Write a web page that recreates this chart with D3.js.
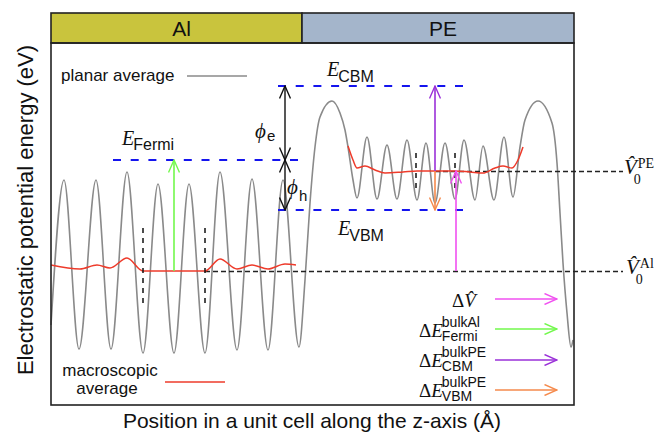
<!DOCTYPE html>
<html>
<head>
<meta charset="utf-8">
<script src="https://cdn.jsdelivr.net/npm/d3@7"></script>
<style>
body { margin: 0; background: #fff; }
</style>
</head>
<body>
<div id="chart"></div>
<script>
// planar average (gray) - extrema / key points
const planarX = [0, 1.3, 2.8, 4.5, 6.0, 7.6, 9.2, 10.7, 12.3, 13.8, 15.4, 16.9, 18.6, 20.1, 21.7, 23.2, 24.8,
    25.4, 25.9, 26.4, 26.9, 28.1, 28.9, 29.4, 29.7, 30.2, 30.6,
    31.6, 32.6, 33.6, 34.6, 35.6, 36.6, 37.5, 38.4, 39.4, 40.4, 41.3, 42.4, 43.2, 44.3, 45.3, 46.2,
    46.9, 47.4, 48.7, 50.1, 50.6, 50.9, 51.2, 51.6, 52.0, 52.2];
const planarY = [-2.7, 4.55, -3.9, 4.55, -3.9, 4.95, -4.1, 4.35, -4.1, 4.35, -4.1, 4.95, -3.95, 4.6, -3.95, 4.55, -3.8,
    -0.45, 3.4, 6.2, 7.7, 8.5, 7.9, 7.05, 6.2, 4.55, 3.65,
    6.7, 3.6, 6.3, 3.6, 6.55, 3.55, 6.4, 3.4, 6.4, 3.6, 6.55, 3.55, 6.25, 3.55, 6.7, 3.7,
    6.2, 7.55, 8.5, 7.4, 5.4, 2.9, 0.4, -2.1, -3.8, -3.45];

// macroscopic average (red)
const macroAlX = [0, 2.9, 4.6, 5.9, 7.6, 9.2, 12.3, 15.4, 16.9, 18.6, 20.1, 21.7, 23.4, 24.5];
const macroAlY = [0.3, 0.1, 0.3, 0.15, 0.65, 0, 0, 0, 0.6, 0.1, 0.3, 0.1, 0.35, 0.3];
const macroPEX = [29.7, 30.2, 30.6, 31.4, 32.4, 33.4, 35.2, 36.6, 40.4, 41.9, 43.2, 44.4, 45.2, 46.1, 46.7, 47.2];
const macroPEY = [6.25, 5.55, 5.15, 5.25, 5.05, 4.9, 4.95, 5.0, 5.0, 4.95, 4.9, 5.15, 5.25, 5.15, 5.55, 6.2];

// regions on top
const regionNames = ["Al", "PE"];
const regionEdges = [0, 25.1, 52.3];
const regionColors = ["#c9c43d", "#a4b5cb"];

// energy levels (eV)
const eFermi = 5.55, eCBM = 9.25, eVBM = 3.05, v0Al = 0, v0PE = 5.0;
const fermiSpan = [6.2, 25.4];
const bandSpan = [22.7, 41.9];
const v0AlSpan = [15.4, 57.2];
const v0PESpan = [38.4, 57.2];
// period marks (dashed verticals)
const markAlX = [9.2, 15.4], markAlY = [-1.85, 2.15];
const markPEX = [36.5, 40.4], markPEY = [4.15, 5.9];
const phiX = 23.4;

// level arrows
const arrowNames = ["dV", "fermi", "cbm", "vbm"];
const arrowX = [40.5, 12.3, 38.4, 38.4];
const arrowFrom = [v0Al, v0Al, v0PE, v0PE];
const arrowTo = [v0PE, eFermi, eCBM, eVBM];
const arrowColors = ["#f050f0", "#72f84c", "#9a30d8", "#f58a4c"];

const W = 657, H = 434;
const svg = d3.select("#chart").append("svg").attr("width", W).attr("height", H);
const x = d3.scaleLinear().domain([0, 52.3]).range([51, 574]);
const y = d3.scaleLinear().domain([-6.7, 11.4]).range([405, 43]);

const serif = "'Liberation Serif', 'DejaVu Serif', serif";
const sans = "'Liberation Sans', Arial, sans-serif";

const defs = svg.append("defs");
function marker(id, color) {
    defs.append("marker").attr("id", id)
        .attr("viewBox", "0 0 14 12").attr("refX", 13).attr("refY", 6)
        .attr("markerWidth", 14).attr("markerHeight", 12)
        .attr("markerUnits", "userSpaceOnUse").attr("orient", "auto-start-reverse")
        .append("path").attr("d", "M0.5,0.5 L13,6 L0.5,11.5")
        .attr("fill", "none").attr("stroke", color).attr("stroke-width", 1.4);
}
arrowNames.forEach((n, i) => marker("m-" + n, arrowColors[i]));
marker("m-black", "#111");

const line = d3.line().x(d => x(d[0])).y(d => y(d[1])).curve(d3.curveMonotoneX);

// gray planar average
svg.append("path")
    .attr("d", line(d3.zip(planarX, planarY)))
    .attr("fill", "none").attr("stroke", "#8a8a8a").attr("stroke-width", 1.6);

// dashed V0 lines
[[v0AlSpan, v0Al], [v0PESpan, v0PE]].forEach(([span, v]) => {
    svg.append("line").attr("x1", x(span[0])).attr("x2", x(span[1]))
        .attr("y1", y(v) + 0.5).attr("y2", y(v) + 0.5)
        .attr("stroke", "#222").attr("stroke-width", 1.3).attr("stroke-dasharray", "5,3");
});

// red macroscopic averages
[[macroAlX, macroAlY], [macroPEX, macroPEY]].forEach(([xs, ys]) => {
    svg.append("path")
        .attr("d", line(d3.zip(xs, ys)))
        .attr("fill", "none").attr("stroke", "#ee3b2b").attr("stroke-width", 1.5);
});

// dashed period marks
[[markAlX, markAlY], [markPEX, markPEY]].forEach(([xs, ys]) => {
    xs.forEach(xv => {
        svg.append("line").attr("x1", x(xv)).attr("x2", x(xv))
            .attr("y1", y(ys[1])).attr("y2", y(ys[0]))
            .attr("stroke", "#111").attr("stroke-width", 1.5).attr("stroke-dasharray", "5,5");
    });
});

// blue band edges
[[fermiSpan, eFermi], [bandSpan, eCBM], [bandSpan, eVBM]].forEach(([span, v]) => {
    svg.append("line").attr("x1", x(span[0])).attr("x2", x(span[1]))
        .attr("y1", y(v)).attr("y2", y(v))
        .attr("stroke", "#1414ee").attr("stroke-width", 2.2).attr("stroke-dasharray", "8,9.7");
});

// phi double arrows
[[eFermi, eCBM], [eFermi, eVBM]].forEach(([a, b]) => {
    svg.append("line").attr("x1", x(phiX)).attr("x2", x(phiX))
        .attr("y1", y(a)).attr("y2", y(b))
        .attr("stroke", "#111").attr("stroke-width", 1.4)
        .attr("marker-start", "url(#m-black)").attr("marker-end", "url(#m-black)");
});

// level arrows
arrowNames.forEach((n, i) => {
    svg.append("line").attr("x1", x(arrowX[i])).attr("x2", x(arrowX[i]))
        .attr("y1", y(arrowFrom[i])).attr("y2", y(arrowTo[i]))
        .attr("stroke", arrowColors[i]).attr("stroke-width", 1.6)
        .attr("marker-end", "url(#m-" + n + ")");
});

// header bars
regionNames.forEach((r, i) => {
    svg.append("rect").attr("x", x(regionEdges[i])).attr("y", 13)
        .attr("width", x(regionEdges[i + 1]) - x(regionEdges[i])).attr("height", 30)
        .attr("fill", regionColors[i]).attr("stroke", "#222").attr("stroke-width", 1.6);
    svg.append("text").attr("x", (x(regionEdges[i]) + x(regionEdges[i + 1])) / 2 + 5).attr("y", 36)
        .attr("text-anchor", "middle").attr("font-family", sans).attr("font-size", 21)
        .attr("fill", "#111").text(r);
});

// frame
svg.append("rect").attr("x", 51).attr("y", 43).attr("width", 523).attr("height", 362)
    .attr("fill", "none").attr("stroke", "#222").attr("stroke-width", 1.6);

// axis titles
svg.append("text").attr("x", 312).attr("y", 428).attr("text-anchor", "middle")
    .attr("font-family", sans).attr("font-size", 21).attr("fill", "#111")
    .text("Position in a unit cell along the z-axis (Å)");
svg.append("text").attr("transform", "translate(33,210) rotate(-90)").attr("text-anchor", "middle")
    .attr("font-family", sans).attr("font-size", 22).attr("fill", "#111")
    .text("Electrostatic potential energy (eV)");

// math-style labels: base + optional sup/sub
function mathLabel(x0, yb, base, opts) {
    const g = svg.append("g");
    const t = g.append("text").attr("x", x0).attr("y", yb).attr("fill", "#111");
    base.forEach(p => t.append("tspan")
        .attr("font-family", p.f || serif).attr("font-size", p.s || 19)
        .attr("font-style", p.i ? "italic" : "normal").text(p.t));
    const w = t.node().getComputedTextLength();
    const sf = opts.font || sans, ss = opts.size || 14;
    if (opts.sup) g.append("text").attr("x", x0 + w + (opts.supDx || 0)).attr("y", yb + opts.supDy)
        .attr("font-family", sf).attr("font-size", ss).attr("fill", "#111").text(opts.sup);
    if (opts.sub) g.append("text").attr("x", x0 + w + (opts.subDx || 0)).attr("y", yb + opts.subDy)
        .attr("font-family", opts.subFont || sf).attr("font-size", opts.subSize || ss).attr("fill", "#111").text(opts.sub);
}

mathLabel(122, 145, [{t: "E", i: true, s: 20}], {sub: "Fermi", subDy: 5, subDx: -1, size: 16});
mathLabel(327, 76, [{t: "E", i: true, s: 20}], {sub: "CBM", subDy: 6, subDx: -1, size: 16});
mathLabel(338, 235, [{t: "E", i: true, s: 20}], {sub: "VBM", subDy: 6, subDx: -1, size: 16});
mathLabel(255, 138, [{t: "\u03d5", i: true, s: 21}], {sub: "e", subDy: 3, subDx: 1, size: 15});
mathLabel(287, 194, [{t: "\u03d5", i: true, s: 21}], {sub: "h", subDy: 7, subDx: 1, size: 15});

mathLabel(624, y(v0PE) + 3, [{t: "V\u0302", i: true, s: 21}],
    {sup: "PE", supDy: -6, supDx: 1, sub: "0", subDy: 10, subDx: -3, font: serif, size: 14});
mathLabel(626, y(v0Al) + 3, [{t: "V\u0302", i: true, s: 21}],
    {sup: "Al", supDy: -6, supDx: 1, sub: "0", subDy: 10, subDx: -3, font: serif, size: 14});

// legend for the planar / macroscopic curves
svg.append("text").attr("x", 61).attr("y", 81).attr("font-family", sans).attr("font-size", 17)
    .attr("fill", "#111").text("planar average");
svg.append("line").attr("x1", 187).attr("x2", 247).attr("y1", 76).attr("y2", 76)
    .attr("stroke", "#8a8a8a").attr("stroke-width", 1.6);
svg.append("text").attr("x", 110).attr("y", 376).attr("text-anchor", "middle").attr("font-family", sans)
    .attr("font-size", 17).attr("fill", "#111").text("macroscopic");
svg.append("text").attr("x", 107).attr("y", 394).attr("text-anchor", "middle").attr("font-family", sans)
    .attr("font-size", 17).attr("fill", "#111").text("average");
svg.append("line").attr("x1", 165).attr("x2", 225).attr("y1", 382).attr("y2", 382)
    .attr("stroke", "#ee3b2b").attr("stroke-width", 1.6);

// legend for arrows
const legendY = [299, 329, 360, 390];
mathLabel(452, 307, [{t: "\u0394"}, {t: "V\u0302", i: true}], {});
mathLabel(419, 337, [{t: "\u0394"}, {t: "E", i: true}], {sup: "bulkAl", supDy: -10, supDx: -1, sub: "Fermi", subDy: 4, subDx: -1});
mathLabel(419, 367, [{t: "\u0394"}, {t: "E", i: true}], {sup: "bulkPE", supDy: -10, supDx: -1, sub: "CBM", subDy: 4, subDx: -1});
mathLabel(419, 397, [{t: "\u0394"}, {t: "E", i: true}], {sup: "bulkPE", supDy: -10, supDx: -1, sub: "VBM", subDy: 4, subDx: -1});
arrowNames.forEach((n, i) => {
    svg.append("line").attr("x1", 495).attr("x2", 557).attr("y1", legendY[i]).attr("y2", legendY[i])
        .attr("stroke", arrowColors[i]).attr("stroke-width", 1.6)
        .attr("marker-end", "url(#m-" + n + ")");
});
</script>
</body>
</html>
